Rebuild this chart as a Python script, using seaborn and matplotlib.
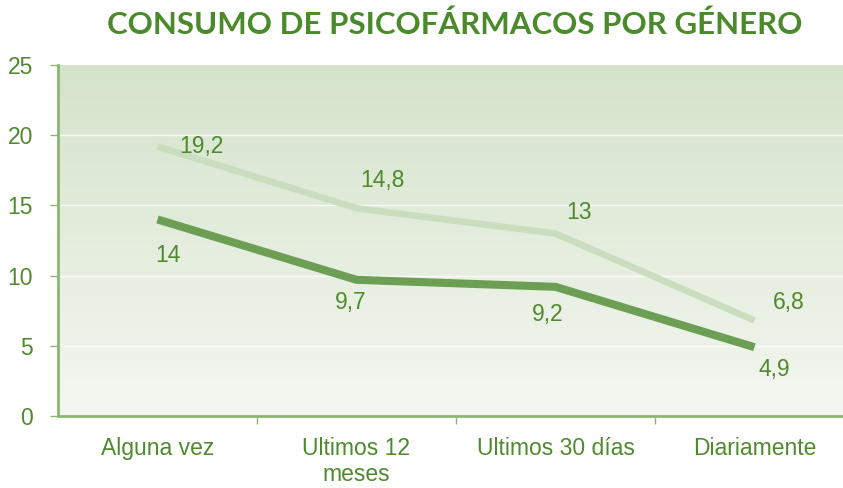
import numpy as np
import pandas as pd
import matplotlib
matplotlib.use("Agg")
import matplotlib.pyplot as plt
import seaborn as sns
from matplotlib.colors import LinearSegmentedColormap

categorias = ["Alguna vez", "Ultimos 12\nmeses", "Ultimos 30 días", "Diariamente"]
mujeres = [19.2, 14.8, 13, 6.8]
hombres = [14, 9.7, 9.2, 4.9]
yticks = [0, 5, 10, 15, 20, 25]

TXT = "#4f8a2e"
AXC = "#8db572"
FS = 16.5

sns.set_theme(style="white")
plt.rcParams["font.family"] = ["Liberation Sans", "DejaVu Sans"]

df = pd.DataFrame({
    "categoria": categorias * 2,
    "valor": mujeres + hombres,
    "grupo": ["Mujeres"] * 4 + ["Hombres"] * 4,
})

fig = plt.figure(figsize=(8.43, 4.88), dpi=100)
ax = fig.add_axes([58 / 843, 72 / 488, 1 - 58 / 843, 351 / 488])

# vertical gradient background of the plotting area (darker at the top)
grad = np.linspace(0, 1, 256).reshape(-1, 1)
cmap = LinearSegmentedColormap.from_list("bg", ["#d4e3ca", "#f4f7f1"])
ax.imshow(grad, aspect="auto", cmap=cmap, extent=(-0.5, 3.445, 0, 25),
          origin="upper", zorder=0, interpolation="bicubic")

sns.lineplot(data=df, x="categoria", y="valor", hue="grupo",
             palette={"Mujeres": "#cbddbf", "Hombres": "#6c9e54"},
             legend=False, ax=ax, sort=False, zorder=3)
widths = {"#cbddbf": 4.8, "#6c9e54": 5.8}
for ln in ax.get_lines():
    c = matplotlib.colors.to_hex(ln.get_color())
    ln.set_linewidth(widths.get(c, 5.5))
    ln.set_solid_capstyle("butt")

# faint white gridlines
for y in yticks[1:-1]:
    ax.axhline(y, color="white", lw=1.0, alpha=0.8, zorder=1)

ax.set_xlim(-0.5, 3.445)
ax.set_ylim(0, 25)
ax.set_xlabel("")
ax.set_ylabel("")

# value labels
offs_m = [(0.22, 0.0), (0.13, 2.0), (0.12, 1.5), (0.17, 1.3)]
offs_h = [(0.05, -2.6), (-0.03, -1.6), (-0.04, -2.0), (0.1, -1.6)]
for i, (v, (dx, dy)) in enumerate(zip(mujeres, offs_m)):
    ax.text(i + dx, v + dy, f"{v:g}".replace(".", ","), color=TXT,
            fontsize=FS, ha="center", va="center", zorder=4)
for i, (v, (dx, dy)) in enumerate(zip(hombres, offs_h)):
    ax.text(i + dx, v + dy, f"{v:g}".replace(".", ","), color=TXT,
            fontsize=FS, ha="center", va="center", zorder=4)

# axes styling
for s in ["top", "right"]:
    ax.spines[s].set_visible(False)
for s in ["left", "bottom"]:
    ax.spines[s].set_color(AXC)
    ax.spines[s].set_linewidth(2)
ax.set_yticks(yticks)
ax.set_yticklabels([str(t) for t in yticks])
ax.set_xticks(range(4))
ax.set_xticklabels(categorias)
ax.set_xticks([0.5, 1.5, 2.5], minor=True)
ax.tick_params(axis="y", colors=AXC, labelcolor=TXT, labelsize=FS,
               length=6, width=1, direction="out", left=True, pad=12)
ax.tick_params(axis="x", which="major", length=0, labelcolor=TXT,
               labelsize=FS, pad=15)
ax.tick_params(axis="x", which="minor", colors=AXC, length=6, width=1,
               direction="out", bottom=True)
for lab in ax.get_xticklabels():
    lab.set_linespacing(1.2)
    lab.set_va("top")

fig.text(455 / 843, 1 - 25 / 488, "CONSUMO DE PSICOFÁRMACOS POR GÉNERO",
         ha="center", va="center", color="#4a8a2a", fontsize=22.5,
         fontweight="bold", family=["Lato", "DejaVu Sans"])

fig.savefig("out.png", dpi=100)
